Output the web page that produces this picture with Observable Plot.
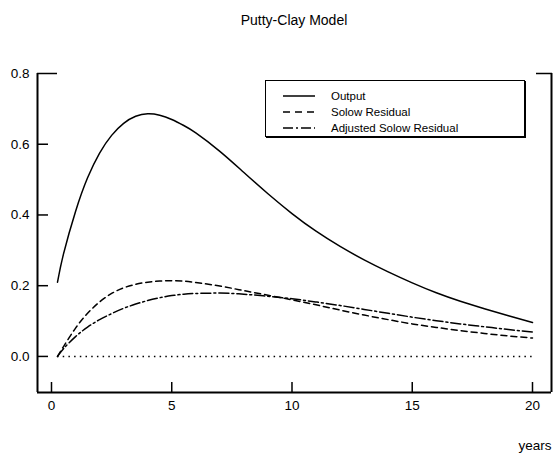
<!DOCTYPE html>
<html><head><meta charset="utf-8">
<script src="https://cdn.jsdelivr.net/npm/d3@7"></script>
<script src="https://cdn.jsdelivr.net/npm/@observablehq/plot@0.6"></script>
<style>
body{margin:0;background:#fff;font-family:"Liberation Sans",Arial,sans-serif;color:#000;}
#wrap{position:relative;width:555px;height:457px;overflow:hidden;}
#title{position:absolute;left:37px;width:514px;top:11px;text-align:center;font-size:14px;line-height:18px;}
#chart{position:absolute;left:0;top:40px;}
#legend{position:absolute;left:265px;top:80px;width:260px;height:57px;border:1px solid #000;box-shadow:1px 1px 0 #000;background:#fff;box-sizing:border-box;font-size:11.5px;}
.row{position:absolute;left:17px;height:15px;display:flex;align-items:center;}
.row svg{margin-right:16px;}
</style></head>
<body>
<div id="wrap">
  <div id="title"></div>
  <div id="chart"></div>
  <div id="legend"></div>
</div>
<script>
const titleText = "Putty-Clay Model";
const xLabel = "years";
const years = [0.25,0.5,1,1.5,2,2.5,3,3.5,4,4.5,5,5.5,6,7,8,9,10,11,12,13,14,15,16,17,18,19,20];
const output = [0.21,0.29,0.41,0.505,0.575,0.625,0.659,0.679,0.686,0.682,0.67,0.653,0.632,0.58,0.52,0.46,0.404,0.354,0.311,0.273,0.239,0.208,0.18,0.156,0.135,0.115,0.096];
const solow = [0,0.028,0.08,0.122,0.154,0.178,0.194,0.204,0.21,0.213,0.214,0.213,0.209,0.199,0.186,0.173,0.16,0.146,0.131,0.117,0.104,0.092,0.082,0.073,0.065,0.058,0.052];
const adjusted = [0,0.022,0.056,0.083,0.104,0.121,0.136,0.148,0.158,0.166,0.172,0.176,0.178,0.179,0.176,0.17,0.163,0.154,0.144,0.133,0.122,0.111,0.101,0.092,0.084,0.076,0.069];
const seriesNames = ["Output","Solow Residual","Adjusted Solow Residual"];
const seriesValues = [output, solow, adjusted];
const seriesDash = [null, "6,4", "10,3,2,3"];
const legendDash = [null, "7,5", "10,3,2,3"];
const xTicks = [0,5,10,15,20];
const yTicks = [0.0,0.2,0.4,0.6,0.8];
const xDomain = [-0.582, 20.79];
const yDomain = [-0.102, 0.8];

document.getElementById("title").textContent = titleText;

const rows = [];
seriesNames.forEach((name, s) => {
  seriesValues[s].forEach((v, i) => rows.push({series: name, x: years[i], y: v}));
});

const lineMarks = seriesNames.map((name, s) =>
  Plot.line(rows.filter(d => d.series === name), {x: "x", y: "y", stroke: "#000", strokeWidth: 1.5, strokeDasharray: seriesDash[s], curve: "natural"})
);

const chart = Plot.plot({
  width: 555,
  height: 417,
  marginLeft: 37,
  marginRight: 4,
  marginTop: 33,
  marginBottom: 65,
  style: {fontFamily: "'Liberation Sans', Arial, sans-serif", fontSize: "13.5px", background: "#fff", color: "#000"},
  x: {domain: xDomain},
  y: {domain: yDomain},
  marks: [
    Plot.ruleY([0], {x1: years[0], x2: years[years.length - 1], stroke: "#000", strokeWidth: 1.5, strokeDasharray: "1.5,4.2"}),
    ...lineMarks,
    Plot.ruleX([xDomain[0]], {stroke: "#000", strokeWidth: 2}),
    Plot.ruleX([xDomain[1]], {stroke: "#000", strokeWidth: 2}),
    Plot.ruleY([yDomain[0]], {stroke: "#000", strokeWidth: 2}),
    Plot.axisY({ticks: yTicks, tickSize: 0, tickPadding: 8, tickFormat: d3.format(".1f"), label: null, fontSize: 13.5}),
    Plot.axisY({ticks: yTicks.slice(0, 4), tickSize: -11, fill: "none", strokeWidth: 1.5, label: null}),
    Plot.axisY({ticks: yTicks.slice(4), tickSize: -20, fill: "none", strokeWidth: 1.5, label: null}),
    Plot.axisY({anchor: "right", ticks: yTicks.slice(4), tickSize: -16, fill: "none", strokeWidth: 1.5, label: null}),
    Plot.axisX({ticks: xTicks, tickSize: 0, tickPadding: 8, label: null, fontSize: 13.5}),
    Plot.axisX({ticks: xTicks, tickSize: -10, fill: "none", strokeWidth: 1.5, label: null}),
    Plot.text([xLabel], {text: d => d, frameAnchor: "bottom-right", textAnchor: "end", lineAnchor: "middle", dy: 53, fontSize: 13.5})
  ]
});
document.getElementById("chart").appendChild(chart);

const legend = document.getElementById("legend");
seriesNames.forEach((name, s) => {
  const row = document.createElement("div");
  row.className = "row";
  row.style.top = (7 + s * 16) + "px";
  const svgNS = "http://www.w3.org/2000/svg";
  const sv = document.createElementNS(svgNS, "svg");
  sv.setAttribute("width", 32); sv.setAttribute("height", 4);
  const ln = document.createElementNS(svgNS, "line");
  ln.setAttribute("x1", 0); ln.setAttribute("x2", 32); ln.setAttribute("y1", 2); ln.setAttribute("y2", 2);
  ln.setAttribute("stroke", "#000"); ln.setAttribute("stroke-width", 1.5);
  if (legendDash[s]) ln.setAttribute("stroke-dasharray", legendDash[s]);
  sv.appendChild(ln);
  row.appendChild(sv);
  const t = document.createElement("span");
  t.textContent = name;
  row.appendChild(t);
  legend.appendChild(row);
});
</script>
</body></html>
